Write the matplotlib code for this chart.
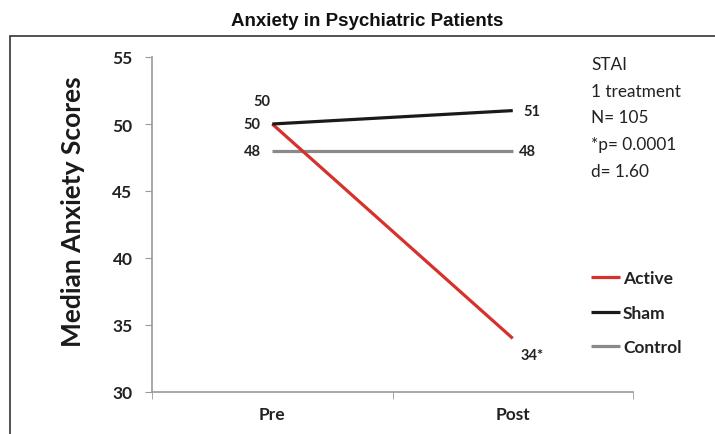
import matplotlib
matplotlib.use("Agg")
import matplotlib.pyplot as plt
import matplotlib.patches as mpatches

matplotlib.rcParams.update({"font.family": ["Lato", "DejaVu Sans"]})

# data
phases = ["Pre", "Post"]
groups = ["Active", "Sham", "Control"]
active = [50, 34]
sham = [50, 51]
control = [48, 48]
stats_lines = ["STAI", "1 treatment", "N= 105", "*p= 0.0001", "d= 1.60"]

COLORS = {"Active": "#D7312B", "Sham": "#1A1A1A", "Control": "#8A8A8A"}
AXIS = "#9A9A9A"

fig = plt.figure(figsize=(7.15, 4.35), dpi=100)
fig.patch.set_facecolor("white")
ax = fig.add_axes([152 / 715, 42 / 435, 481 / 715, 335 / 435])

# outer frame (only left/top visible in the crop)
frame = mpatches.Rectangle((10 / 715, -0.2), 1.2, 1.2 - 37 / 435,
                           transform=fig.transFigure, fill=False,
                           edgecolor="#333333", lw=1.2, clip_on=False)
fig.patches.append(frame)

x = list(range(len(phases)))
series = {"Active": active, "Sham": sham, "Control": control}
for g in ["Control", "Active", "Sham"]:
    ax.plot(x, series[g], color=COLORS[g], lw=2.3, solid_capstyle="butt", label=g)

# value labels (offsets in pixels)
lab_kw = dict(textcoords="offset pixels", fontsize=10.5, fontweight="bold",
              color="#222222", ha="center", va="center")
ax.annotate(f"{sham[0]:g}", (0, sham[0]), xytext=(-10, 23), **lab_kw)
ax.annotate(f"{active[0]:g}", (0, active[0]), xytext=(-20, 0), **lab_kw)
ax.annotate(f"{control[0]:g}", (0, control[0]), xytext=(-20, 0), **lab_kw)
ax.annotate(f"{sham[1]:g}", (1, sham[1]), xytext=(19, 0), **lab_kw)
ax.annotate(f"{control[1]:g}", (1, control[1]), xytext=(15, 0), **lab_kw)
ax.annotate(f"{active[1]:g}*", (1, active[1]), xytext=(19, -17), **lab_kw)

ax.set_xlim(-0.5, 1.5)
ax.set_ylim(30, 55)
ax.set_yticks(range(30, 56, 5))
ax.set_xticks(x)
ax.set_xticklabels(phases)
ax.set_xticks([-0.5, 0.5, 1.5], minor=True)
ax.tick_params(axis="x", which="major", length=0, pad=10)
ax.tick_params(axis="x", which="minor", length=5, color=AXIS, direction="out")
ax.tick_params(axis="y", length=5, color=AXIS, pad=9)
for t in ax.get_xticklabels() + ax.get_yticklabels():
    t.set_fontsize(12.5)
    t.set_fontweight("bold")
    t.set_color("#222222")

for s in ["top", "right"]:
    ax.spines[s].set_visible(False)
for s in ["left", "bottom"]:
    ax.spines[s].set_color(AXIS)
    ax.spines[s].set_linewidth(1.2)

ax.set_ylabel("Median Anxiety Scores", fontsize=19, fontweight="bold",
              color="#1A1A1A", labelpad=17)
ax.yaxis.set_label_coords(-0.14, 0.54)

fig.text(367 / 715, 1 - 21 / 435, "Anxiety in Psychiatric Patients",
         family=["Liberation Sans", "DejaVu Sans"], fontsize=13.5,
         fontweight="bold", ha="center", va="center", color="#111111")

for i, line in enumerate(stats_lines):
    fig.text(591 / 715, 1 - (65 + 26.7 * i) / 435, line, fontsize=12.4,
             ha="left", va="center", color="#222222")

handles, labels = ax.get_legend_handles_labels()
order = [labels.index(g) for g in groups]
leg = ax.legend([handles[i] for i in order], [labels[i] for i in order],
                loc="upper left", bbox_to_anchor=(591 / 715, 1 - 271 / 435),
                bbox_transform=fig.transFigure, frameon=False,
                handlelength=1.65, handletextpad=0.2, labelspacing=1.08,
                borderpad=0, borderaxespad=0, prop={"size": 12.5, "weight": "bold"})
for t in leg.get_texts():
    t.set_color("#222222")

fig.savefig("out.png", dpi=100)
